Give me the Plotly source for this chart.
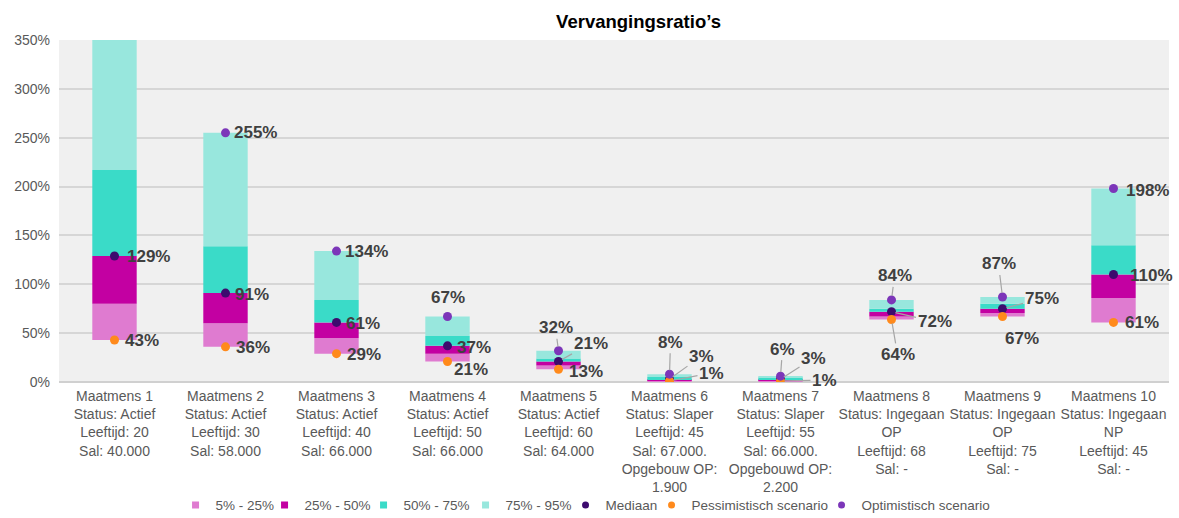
import plotly.graph_objects as go

# Maatmensen (categories) with their descriptions on multiple lines
categories = [
    "Maatmens 1<br>Status: Actief<br>Leeftijd: 20<br>Sal: 40.000",
    "Maatmens 2<br>Status: Actief<br>Leeftijd: 30<br>Sal: 58.000",
    "Maatmens 3<br>Status: Actief<br>Leeftijd: 40<br>Sal: 66.000",
    "Maatmens 4<br>Status: Actief<br>Leeftijd: 50<br>Sal: 66.000",
    "Maatmens 5<br>Status: Actief<br>Leeftijd: 60<br>Sal: 64.000",
    "Maatmens 6<br>Status: Slaper<br>Leeftijd: 45<br>Sal: 67.000.<br>Opgebouw OP:<br>1.900",
    "Maatmens 7<br>Status: Slaper<br>Leeftijd: 55<br>Sal: 66.000.<br>Opgebouwd OP:<br>2.200",
    "Maatmens 8<br>Status: Ingegaan<br>OP<br>Leeftijd: 68<br>Sal: -",
    "Maatmens 9<br>Status: Ingegaan<br>OP<br>Leeftijd: 75<br>Sal: -",
    "Maatmens 10<br>Status: Ingegaan<br>NP<br>Leeftijd: 45<br>Sal: -",
]

# Replacement ratios in percent
pessimistisch = [43, 36, 29, 21, 13, 1, 1, 64, 67, 61]      # 5th percentile
p25 = [80, 60, 45, 29, 17, 2, 2, 67, 70.5, 86]
mediaan = [129, 91, 61, 37, 21, 3, 3, 72, 75, 110]           # 50th percentile
p75 = [217, 139, 84, 47, 24, 5, 4.5, 75, 80, 140]
optimistisch = [370, 255, 134, 67, 32, 8, 6, 84, 87, 198]   # 95th percentile

band_names = ["5% - 25%", "25% - 50%", "50% - 75%", "75% - 95%"]
band_colors = ["#df7bd0", "#c300a2", "#3adbc8", "#98e7dd"]
col_mediaan = "#3d0b6e"
col_pess = "#ff8a1c"
col_opt = "#7c36b9"

Y_MAX = 350

FONT = "Liberation Sans, Arial, sans-serif"
LABEL_FONT = dict(family=FONT, size=17, color="#404040", weight="bold")
GREY = "#595959"

fig = go.Figure()

# Percentile bands as floating bars
lows = [pessimistisch, p25, mediaan, p75]
highs = [p25, mediaan, p75, optimistisch]
for name, color, lo, hi in zip(band_names, band_colors, lows, highs):
    fig.add_trace(go.Bar(
        x=categories,
        y=[h - l for l, h in zip(lo, hi)],
        base=lo,
        name=name,
        marker=dict(color=color, line=dict(width=0)),
        width=0.4,
        showlegend=False,
        legendgroup=name,
    ))

# Scenario dots
dot_series = [("Mediaan", col_mediaan, mediaan),
              ("Pessimistisch scenario", col_pess, pessimistisch),
              ("Optimistisch scenario", col_opt, optimistisch)]
for name, color, vals in dot_series:
    fig.add_trace(go.Scatter(
        x=categories, y=vals, mode="markers", name=name,
        marker=dict(color=color, size=9),
        cliponaxis=True, showlegend=False, legendgroup=name,
    ))

# Compact legend entries (small squares for the bands, small dots for the scenarios)
legend_entries = [(n, c, "square") for n, c in zip(band_names, band_colors)] + \
                 [(n, c, "circle") for n, c, _ in dot_series]
legend_widths = [44, 54, 57, 55, 41, 125, 140]
for (name, color, symbol), lw in zip(legend_entries, legend_widths):
    fig.add_trace(go.Scatter(
        x=[None], y=[None], mode="markers", name=name, legendgroup=name,
        marker=dict(color=color, size=7, symbol=symbol),
        legendwidth=lw, hoverinfo="skip",
    ))

# Label offsets (px) of each value label relative to its dot; lead=True draws a leader line
opt_pos = [(30, 0, False), (30, 0, False), (30, 0, False), (0, -19, False), (-3, -23, True),
           (1, -32, True), (2, -27, True), (3, -24, True), (-4, -33, True), (34, 2, False)]
med_pos = [(34, 1, False), (26, 1, False), (26, 1, False), (26, 2, False), (32, -18, True),
           (32, -23, True), (33, -21, True), (43, 10, True), (39, -10, True), (38, 1, False)]
pess_pos = [(27, 1, False), (27, 1, False), (27, 1, False), (23, 8, False), (27, 2, False),
            (42, -8, True), (44, -1, True), (6, 35, True), (19, 22, False), (28, 0, False)]


def add_labels(vals, positions):
    for cat, v, (dx, dy, lead) in zip(categories, vals, positions):
        if v > Y_MAX:
            continue
        fig.add_annotation(
            x=cat, y=v, text=f"{v:.0f}%", font=LABEL_FONT,
            showarrow=True, ax=dx, ay=dy, arrowhead=0, arrowwidth=1.2,
            arrowcolor="#a6a6a6" if lead else "rgba(0,0,0,0)",
            standoff=4,
        )


add_labels(optimistisch, opt_pos)
add_labels(mediaan, med_pos)
add_labels(pessimistisch, pess_pos)

fig.update_layout(
    width=1179, height=518,
    margin=dict(l=59, r=10, t=40, b=136, autoexpand=False),
    paper_bgcolor="white",
    plot_bgcolor="#f0f0f0",
    barmode="overlay",
    title=dict(text="<b>Vervangingsratio’s</b>", x=0.5416, xanchor="center",
               y=0.959, yanchor="middle",
               font=dict(family=FONT, size=18.5, color="#000000")),
    font=dict(family=FONT, color=GREY),
    showlegend=True,
    legend=dict(orientation="h", x=0.105, xanchor="left", y=-0.36, yanchor="middle",
                font=dict(family=FONT, size=13.5, color=GREY),
                itemwidth=30, tracegroupgap=0, bgcolor="rgba(0,0,0,0)"),
    xaxis=dict(range=[-0.5, len(categories) - 0.5],
               tickfont=dict(family=FONT, size=14, color=GREY),
               showgrid=False, ticks="", showline=False, zeroline=False,
               tickangle=0, automargin=False, ticklabelstandoff=4),
    yaxis=dict(range=[0, Y_MAX], dtick=50, ticksuffix="%",
               tickfont=dict(family=FONT, size=14, color=GREY),
               gridcolor="#d6d6d6", gridwidth=1.5, zeroline=True,
               zerolinecolor="#d0d0d0", zerolinewidth=1.5, ticks="",
               showline=False, automargin=False, ticklabelstandoff=8),
)

fig.write_html("out.html")
